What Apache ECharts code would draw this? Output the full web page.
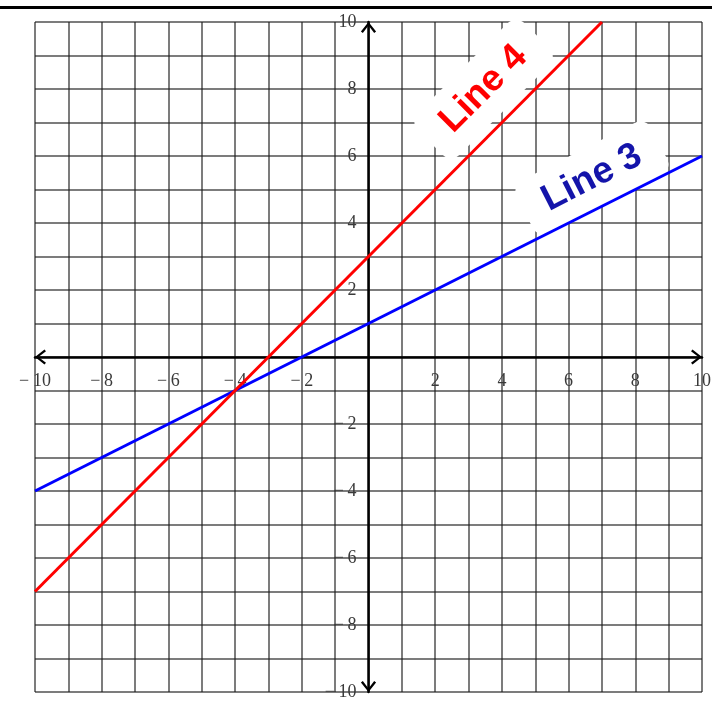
<!DOCTYPE html>
<html>
<head>
<meta charset="utf-8">
<script src="https://cdn.jsdelivr.net/npm/echarts@6/dist/echarts.min.js"></script>
<style>
  html, body { margin: 0; padding: 0; background: #fff; }
  #chart { width: 712px; height: 709px; }
</style>
</head>
<body>
<div id="chart"></div>
<script>
// axis ticks that carry a label (0 has none)
var xTicks = [-10, -8, -6, -4, -2, 2, 4, 6, 8, 10]
var xTickLabels = ['\u2212\u200910', '\u2212\u20098', '\u2212\u20096', '\u2212\u20094', '\u2212\u20092', '2', '4', '6', '8', '10']
var yTicks = [-10, -8, -6, -4, -2, 2, 4, 6, 8, 10]
var yTickLabels = ['\u2212\u200910', '\u2212\u20098', '\u2212\u20096', '\u2212\u20094', '\u2212\u20092', '2', '4', '6', '8', '10']

// the two lines, end points
var line3X = [-10, 10]
var line3Y = [-4, 6]
var line4X = [-10, 7]
var line4Y = [-7, 10]

// where the names sit
var nameText = ['Line 4', 'Line 3']
var nameX = [3.45, 6.7]
var nameY = [8.0, 5.35]

function pairs (xs, ys) {
  var out = []
  for (var i = 0; i < xs.length; i++) out.push([xs[i], ys[i]])
  return out
}

var W = 712, H = 709
var G = { left: 35, right: 10, top: 22, bottom: 17 }
var chevron = 'path://M0,10 L8,0 L16,10 L14,11.6 L8,3.6 L2,11.6 Z'
var gridLine = { color: 'rgba(30,30,30,0.58)', width: 2 }

// axes are pushed into the middle of the grid so the labels follow the line
function axis (ticks, labels, isX) {
  var shift = isX ? -(H - G.top - G.bottom) / 2 : -(W - G.left - G.right) / 2
  return {
    type: 'value',
    min: -10,
    max: 10,
    interval: 1,
    position: isX ? 'bottom' : 'left',
    offset: shift,
    axisLine: {
      onZero: false,
      symbol: [chevron, chevron],
      symbolSize: [16, 11],
      symbolOffset: [5.5, -5.5],
      lineStyle: { color: '#000', width: 2.5 }
    },
    axisTick: { show: false },
    splitLine: { show: true, lineStyle: gridLine },
    axisLabel: {
      margin: isX ? 15 : 12,
      color: '#3a3a3a',
      fontFamily: 'Liberation Serif',
      fontSize: 18,
      showMinLabel: true,
      showMaxLabel: true,
      formatter: function (v) {
        var i = ticks.indexOf(v)
        return i >= 0 ? labels[i] : ''
      }
    },
    z: 1
  }
}

function nameLabel (i, rot, color) {
  return {
    value: [nameX[i], nameY[i]],
    label: {
      show: true,
      position: 'inside',
      formatter: nameText[i],
      rotate: rot,
      color: color,
      textBorderWidth: 0,
      fontFamily: 'Liberation Sans',
      fontWeight: 'bold',
      fontSize: 37,
      backgroundColor: '#fff',
      padding: [12, 22, 10, 22],
      borderRadius: 12
    }
  }
}

var chart = echarts.init(document.getElementById('chart'))
var option = {
  animation: false,
  backgroundColor: '#fff',
  grid: {
    left: G.left, right: G.right, top: G.top, bottom: G.bottom,
    containLabel: false, outerBoundsMode: 'none', show: false
  },
  xAxis: axis(xTicks, xTickLabels, true),
  yAxis: axis(yTicks, yTickLabels, false),
  graphic: [
    {
      type: 'line',
      shape: { x1: 0, y1: 7.5, x2: W, y2: 7.5 },
      style: { stroke: '#000', lineWidth: 3 }
    }
  ],
  series: [
    {
      name: 'names',
      type: 'scatter',
      symbolSize: 0,
      itemStyle: { opacity: 1 },
      z: 2,
      silent: true,
      data: [nameLabel(0, 45, '#ff0000'), nameLabel(1, 27, '#1414aa')]
    },
    {
      name: 'Line 3',
      type: 'line',
      z: 3,
      symbol: 'none',
      lineStyle: { color: '#0000ff', width: 3 },
      data: pairs(line3X, line3Y)
    },
    {
      name: 'Line 4',
      type: 'line',
      z: 4,
      symbol: 'none',
      lineStyle: { color: '#ff0000', width: 3 },
      data: pairs(line4X, line4Y)
    }
  ]
}
chart.setOption(option)
</script>
</body>
</html>
